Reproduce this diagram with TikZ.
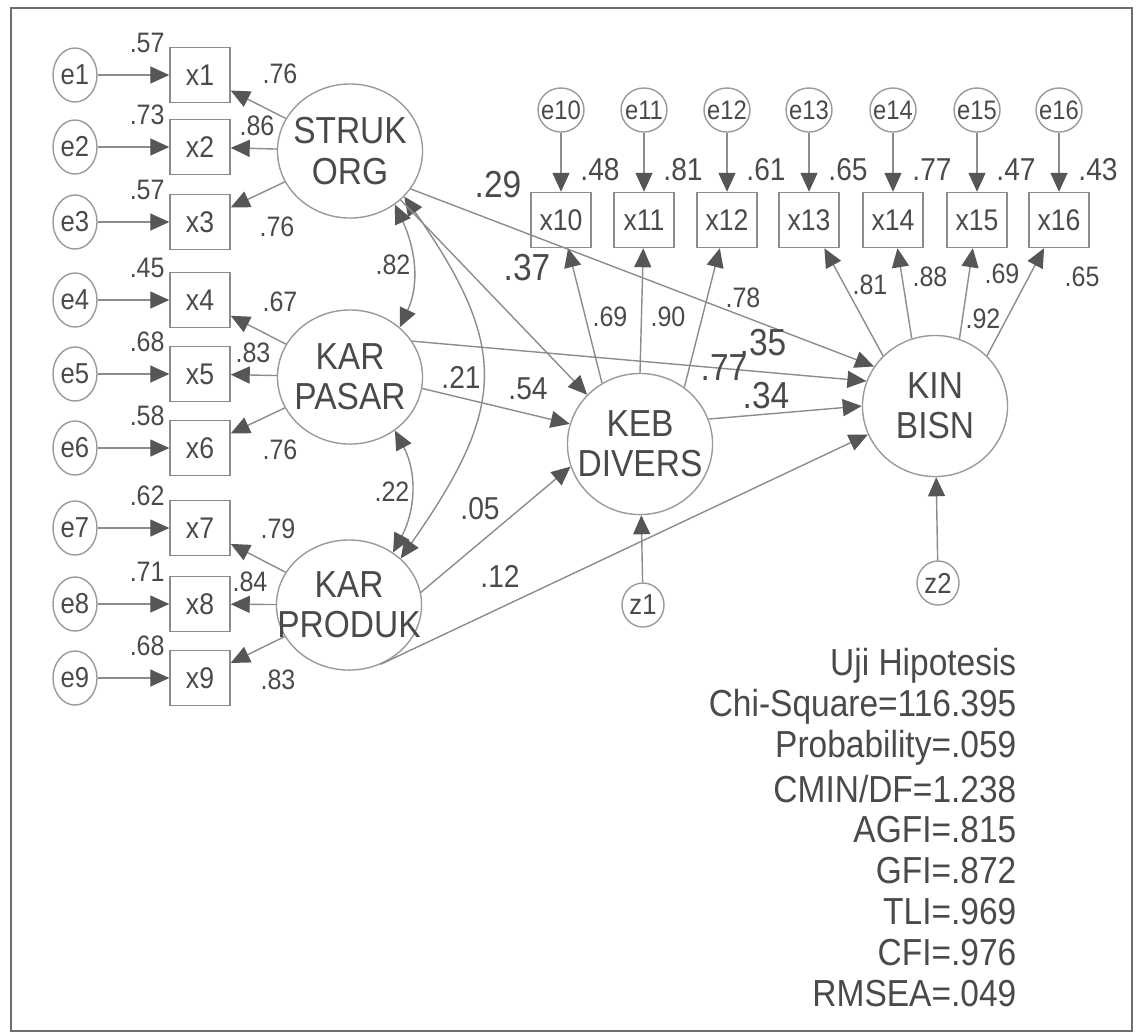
\documentclass[tikz,border=0pt]{standalone}
\usepackage{fontspec}
\setmainfont{Liberation Sans}[FakeStretch=0.89]
\usetikzlibrary{arrows.meta,shapes.geometric,calc}
\definecolor{linegray}{HTML}{8C8C8C}
\definecolor{circgray}{HTML}{9A9A9A}
\definecolor{tipgray}{HTML}{565656}
\definecolor{txtgray}{HTML}{4A4A4A}
\definecolor{bordergray}{HTML}{6E6E6E}

\begin{document}
\begin{tikzpicture}[x=0.01cm,y=0.01cm,
  lat/.style={ellipse,draw=circgray,minimum width=1.45cm,minimum height=1.34cm,inner xsep=-0.3cm,inner ysep=-0.15cm,
    align=center,text=txtgray,font=\fontsize{10.7}{11.4}\selectfont},
  obs/.style={rectangle,draw=linegray,minimum width=0.6cm,minimum height=0.55cm,inner sep=0pt,
    text=txtgray,font=\fontsize{8.5}{10}\selectfont},
  err/.style={ellipse,draw=circgray,minimum width=0.44cm,minimum height=0.54cm,inner xsep=-0.12cm,inner ysep=-0.08cm,
    text=txtgray,font=\fontsize{8.2}{10}\selectfont},
  reg/.style={draw=linegray,-{Triangle[length=0.19cm,width=0.17cm,color=tipgray]}},
  cov/.style={draw=linegray,{Triangle[length=0.19cm,width=0.17cm,color=tipgray]}-{Triangle[length=0.19cm,width=0.17cm,color=tipgray]}},
  lbl/.style={text=txtgray,inner sep=0pt,font=\fontsize{8}{9}\selectfont},
  lblm/.style={lbl,font=\fontsize{9}{10}\selectfont},
  lblb/.style={lbl,font=\fontsize{10.7}{12}\selectfont}]
  \useasboundingbox (0,0) rectangle (1137,-1035);
  \draw[bordergray,line width=0.6pt] (11,-8) rectangle (1132,-1031);

  % latent variables
  \node[lat] (struk) at (350,-151) {STRUK\\ORG};
  \node[lat] (pasar) at (350,-377) {KAR\\PASAR};
  \node[lat,minimum height=1.3cm] (prod) at (349,-605) {KAR\\PRODUK};
  \node[lat,minimum height=1.41cm] (keb) at (640,-444) {KEB\\DIVERS};
  \node[lat,minimum height=1.41cm] (kin) at (935,-406) {KIN\\BISN};
  \node[err,minimum width=0.42cm,minimum height=0.44cm] (z1) at (643,-605) {z1};
  \node[err,minimum width=0.42cm,minimum height=0.44cm] (z2) at (938,-583) {z2};

  % left indicators x1..x9 with errors and SMC
  \foreach \i/\y/\s in {1/75/.57,2/147/.73,3/222/.57,4/300/.45,5/374/.68,6/448/.58,7/528/.62,8/604/.71,9/678/.68}{
    \node[err] (e\i) at (75,-\y) {e\i};
    \node[obs] (x\i) at (200,-\y) {x\i};
    \draw[reg] (e\i) -- (x\i);
    \node[lbl,anchor=east] (s\i) at ($(x\i.north west)+(-4,4)$) {\s};}

  % top indicators x10..x16
  \foreach \i/\xx/\s in {10/561/.48,11/644/.81,12/727/.61,13/809/.65,14/893/.77,15/977/.47,16/1059/.43}{
    \node[err,minimum width=0.46cm,minimum height=0.44cm,font=\fontsize{7.6}{9}\selectfont] (e\i) at (\xx,-110) {e\i};
    \node[obs] (x\i) at (\xx,-220) {x\i};
    \draw[reg] (e\i) -- (x\i);
    \node[lblm] (s\i) at (\xx+39,-170) {\s};}

  % loadings
  \foreach \f/\i in {struk/1,struk/2,struk/3,pasar/4,pasar/5,pasar/6,prod/7,prod/8,prod/9}
    \draw[reg] (\f) -- (x\i);
  \draw[reg] (keb.122) -- (x10);
  \draw[reg] (keb.north) -- (x11);
  \draw[reg] (keb.52) -- (x12);
  \draw[reg] (kin.136) -- (x13);
  \draw[reg] (kin.109) -- (x14);
  \draw[reg] (kin.70) -- (x15);
  \draw[reg] (kin.44) -- (x16);
  \foreach \v/\px/\py [count=\k] in {.76/280/74,.86/257/126,.76/277/227,.67/280/302,.83/253/353,.76/280/450,.79/278/529,.84/250/582,.83/278/680,
      .69/610/317,.90/668/317,.78/743/298,.81/870/285,.88/930/277,.69/1002/274,.65/1082/277}
    \node[lbl] (ld\k) at (\px,-\py) {\v};

  % covariances
  \draw[cov] (struk.-50) to[out=-65,in=65] (pasar.45);
  \draw[cov] (pasar.-50) to[out=-62,in=62] (prod.50);
  \draw[cov] (struk.-40) to[out=-55,in=55,looseness=1.3] (prod.42);
  \node[lbl] (c1) at (393,-265) {.82};
  \node[lbl] (c2) at (392,-492) {.22};
  \node[lblm] (c3) at (461,-377) {.21};

  % structural paths
  \draw[reg] (struk.-32) -- (kin.147);
  \draw[reg] (pasar.30) -- (kin.160);
  \draw[reg] (keb.20) -- (kin.180);
  \draw[reg] (prod.-62) -- (kin.203);
  \draw[reg] (struk.-44) -- (keb.137);
  \draw[reg] (pasar.-9) -- (keb.164);
  \draw[reg] (prod.10) -- (keb.198);
  \draw[reg] (z1) -- (keb);
  \draw[reg] (z2) -- (kin);
  \node[lblb] (p1) at (498,-185) {.29};
  \node[lblb] (p2) at (527,-268) {.37};
  \node[lblb] (p3) at (763,-343) {.35};
  \node[lblb] (p4) at (766,-396) {.34};
  \node[lblm] (p5) at (528,-389) {.54};
  \node[lblm] (p6) at (480,-509) {.05};
  \node[lblm] (p7) at (500,-576) {.12};
  % squared multiple correlations
  \node[lblb] (r1) at (724,-368) {.77};
  \node[lbl] (r2) at (983,-319) {.92};

  % fit indices
  \foreach \t [count=\k] in {Uji Hipotesis,Chi-Square=116.395,Probability=.059,CMIN/DF=1.238,AGFI=.815,GFI=.872,TLI=.969,CFI=.976,RMSEA=.049}
    \node[lblb,anchor=east] (fit\k) at (1017,{-666-41*(\k-1)}) {\t};
\end{tikzpicture}
\end{document}
